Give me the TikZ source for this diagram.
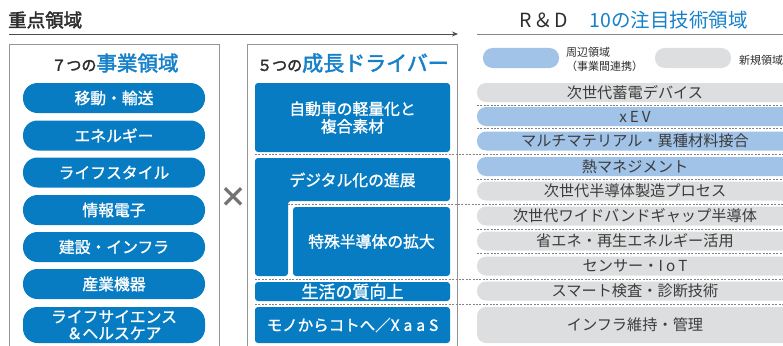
\documentclass[tikz,border=0pt]{standalone}
\usepackage{fontspec}
\setmainfont{Noto Sans CJK JP}
\newfontfamily\medfont{Noto Sans CJK JP}[FakeBold=1.3]
\newfontfamily\semifont{Noto Sans CJK JP}[FakeBold=2.2]
\usetikzlibrary{arrows.meta}
\definecolor{mainblue}{RGB}{8,124,195}
\definecolor{headblue}{RGB}{22,128,200}
\definecolor{lightblue}{RGB}{161,195,232}
\definecolor{pillgray}{RGB}{221,222,223}
\definecolor{textdark}{RGB}{45,45,45}
\definecolor{rdtext}{RGB}{60,60,60}
\definecolor{bordergray}{RGB}{150,150,150}
\definecolor{dashgray}{RGB}{130,130,130}
\tikzset{
  bizpill/.style={fill=mainblue, rounded corners=14.5pt, minimum width=182pt, minimum height=30pt, inner sep=0pt,
    text=white, font=\fontsize{15.8}{16}\selectfont\medfont, align=center},
  drvbox/.style={fill=mainblue, rounded corners=3pt, inner sep=0pt, text=white,
    font=\fontsize{15.8}{17.5}\selectfont\medfont, align=center},
  rdpill/.style={rounded corners=9pt, minimum width=316pt, minimum height=19pt, inner sep=0pt,
    text=rdtext, font=\fontsize{15.2}{16}\selectfont},
  rdgray/.style={rdpill, fill=pillgray},
  rdblue/.style={rdpill, fill=lightblue},
  sep/.style={dashgray, line width=0.8pt, dash pattern=on 2pt off 1.4pt},
  frame/.style={draw=bordergray, line width=0.9pt},
  legtext/.style={text=textdark, font=\fontsize{11}{14.5}\selectfont, inner sep=0pt, anchor=west, align=left}
}
\begin{document}
\begin{tikzpicture}[x=1pt,y=-1pt]
\useasboundingbox (0,0) rectangle (783,345);
\clip (0,0) rectangle (783,345);

% headings
\node[anchor=west, inner sep=0pt, text=textdark, font=\fontsize{18.5}{20}\selectfont\semifont] (title) at (8,20) {重点領域};
\coordinate (arrS) at (9,34);
\coordinate (arrE) at (458,34);
\draw[textdark!85, line width=0.9pt, -{Stealth[length=6pt,width=5pt]}] (arrS) -- (arrE);

\node[anchor=west, inner sep=0pt, font=\fontsize{19.5}{20}\selectfont] (rdtitle) at (519,20)
  {\textcolor{textdark}{R\kern1.5pt＆\kern1.5pt D}\hspace{22pt}\textcolor{headblue}{10の注目技術領域}};
\coordinate (rdS) at (477,34);
\coordinate (rdE) at (783,34);
\draw[bordergray!90!black, line width=0.9pt] (rdS) -- (rdE);

% frames
\draw[frame] (9,360) -- (9,44.5) -- (219,44.5) -- (219,360);
\draw[frame] (247,360) -- (247,44.5) -- (457,44.5) -- (457,360);

% left column
\node[inner sep=0pt, font=\semifont] (bizhead) at (115,63)
  {\fontsize{15}{18}\selectfont\textcolor{textdark}{７つの}\fontsize{20.5}{22}\selectfont\textcolor{headblue}{事業領域}};
\node[bizpill] (b1) at (114,98) {移動・輸送};
\node[bizpill] (b2) at (114,135.5) {エネルギー};
\node[bizpill] (b3) at (114,172.5) {ライフスタイル};
\node[bizpill] (b4) at (114,210) {情報電子};
\node[bizpill] (b5) at (114,247) {建設・インフラ};
\node[bizpill] (b6) at (114,284) {産業機器};
\node[bizpill, minimum height=36pt, font=\fontsize{15.8}{16.5}\selectfont\medfont] (b7) at (114,325) {ライフサイエンス\\＆ヘルスケア};

\node[inner sep=0pt, text=black!55, font=\fontsize{28}{28}\selectfont\bfseries] (times) at (233,197) {×};

% drivers column
\node[inner sep=0pt, font=\semifont] (drvhead) at (353,63)
  {\fontsize{15}{18}\selectfont\textcolor{textdark}{５つの}\fontsize{21}{22}\selectfont\textcolor{headblue}{成長ドライバー}};
\node[drvbox, minimum width=195pt, minimum height=69pt] (d1) at (352.5,117.5) {自動車の軽量化と\\複合素材};
\fill[mainblue, rounded corners=3pt] (255,158) -- (450,158) -- (450,201) -- (288,201) -- (288,276) -- (255,276) -- cycle;
\node[inner sep=0pt, text=white, font=\fontsize{15.8}{17.5}\selectfont\medfont] (d2) at (352.5,180) {デジタル化の進展};
\node[drvbox, minimum width=157pt, minimum height=69pt] (d3) at (371.5,241.5) {特殊半導体の拡大};
\node[drvbox, minimum width=195pt, minimum height=19pt, font=\fontsize{17}{18}\selectfont\medfont] (d4) at (352.5,291.5) {生活の質向上};
\node[drvbox, minimum width=195pt, minimum height=36pt, font=\fontsize{15.5}{18}\selectfont\medfont] (d5) at (352.5,325)
  {モノからコトへ／X\kern4pt a\kern4pt a\kern4pt S};

% legend
\node[fill=lightblue, rounded corners=9.5pt, minimum width=76pt, minimum height=20pt, inner sep=0pt] (legb) at (521,58) {};
\node[legtext] (legbt) at (566,59.5) {周辺領域\\（事業間連携）};
\node[fill=pillgray, rounded corners=9.5pt, minimum width=76pt, minimum height=20pt, inner sep=0pt] (legg) at (693,58) {};
\node[legtext] (leggt) at (739,60) {新規領域};

% R&D rows
\node[rdgray] (r1) at (635,92.5) {次世代蓄電デバイス};
\node[rdblue] (r2) at (635,116.5) {x\kern3pt E\kern3pt V};
\node[rdblue] (r3) at (635,141) {マルチマテリアル・異種材料接合};
\node[rdblue] (r4) at (635,166.5) {熱マネジメント};
\node[rdgray] (r5) at (635,191) {次世代半導体製造プロセス};
\node[rdgray] (r6) at (635,216) {次世代ワイドバンドギャップ半導体};
\node[rdgray] (r7) at (635,241) {省エネ・再生エネルギー活用};
\node[rdgray] (r8) at (635,266) {センサー・I\kern3pt o\kern3pt T};
\node[rdgray] (r9) at (635,291) {スマート検査・診断技術};
\node[rdgray, minimum height=36pt, rounded corners=9pt] (r10) at (635,325) {インフラ維持・管理};

% separators
\draw[sep] (477,105) -- (783,105);
\draw[sep] (477,128.5) -- (783,128.5);
\draw[sep] (255,154.5) -- (783,154.5);
\draw[sep] (477,179) -- (783,179);
\draw[sep] (288,204) -- (783,204);
\draw[sep] (477,229) -- (783,229);
\draw[sep] (477,253.5) -- (783,253.5);
\draw[sep] (255,279) -- (783,279);
\draw[sep] (255,304) -- (783,304);
\end{tikzpicture}
\end{document}
